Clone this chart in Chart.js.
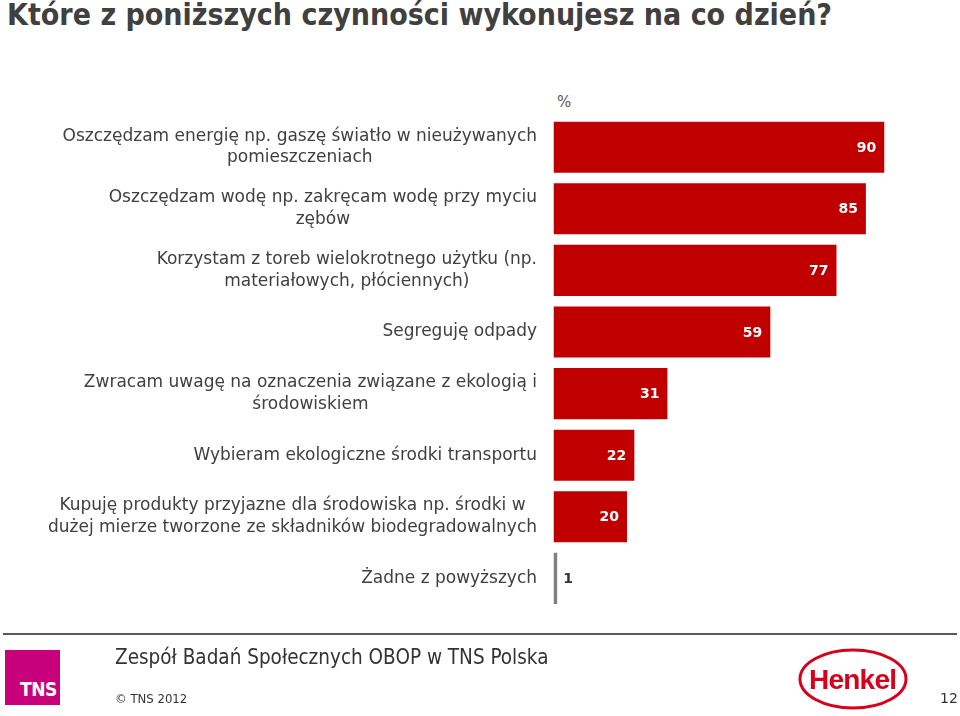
<!DOCTYPE html>
<html><head><meta charset="utf-8">
<script src="https://cdn.jsdelivr.net/npm/chart.js@4.4.0/dist/chart.umd.min.js"></script>
<style>
html,body{margin:0;padding:0;background:#fff;}
body{width:960px;height:716px;position:relative;overflow:hidden;font-family:"DejaVu Sans",sans-serif;}
#c{position:absolute;left:0;top:0;}
.t{position:absolute;white-space:nowrap;}
</style></head><body>
<div class="t" style="left:7px;top:-3px;font-family:'DejaVu Sans Condensed','DejaVu Sans';font-weight:bold;font-size:30px;color:#404040;">Które z poniższych czynności wykonujesz na co dzień?</div>
<div class="t" style="left:557px;top:93px;font-size:15px;color:#595959;">%</div>
<canvas id="c" width="960" height="716"></canvas>
<div style="position:absolute;left:3px;top:633px;width:954px;height:2px;background:#595959;"></div>
<div style="position:absolute;left:5px;top:650px;width:55px;height:55px;background:#C8007A;"></div>
<div class="t" style="left:20px;top:678px;font-family:'DejaVu Sans Condensed';font-weight:bold;font-size:19px;color:#fff;letter-spacing:-0.5px;">TNS</div>
<div class="t" style="left:115px;top:645px;font-family:'DejaVu Sans Condensed','DejaVu Sans';font-size:20.5px;color:#333;">Zespół Badań Społecznych OBOP w TNS Polska</div>
<div class="t" style="left:115px;top:691px;font-family:'DejaVu Sans Condensed','DejaVu Sans';font-size:13px;color:#333;">© TNS 2012</div>
<div class="t" style="left:940px;top:690px;font-size:14px;color:#333;">12</div>
<svg style="position:absolute;left:796px;top:646px;" width="116" height="66">
<ellipse cx="57" cy="33" rx="53" ry="29" fill="none" stroke="#D8001C" stroke-width="3"/>
<text x="57" y="43" text-anchor="middle" font-family="Liberation Sans" font-weight="bold" font-size="28" fill="#D8001C" textLength="88">Henkel</text>
</svg>
<script>
const categories = [
  ["Oszczędzam energię np. gaszę światło w nieużywanych", "pomieszczeniach"],
  ["Oszczędzam wodę np. zakręcam wodę przy myciu", "zębów"],
  ["Korzystam z toreb wielokrotnego użytku (np.", "materiałowych, płóciennych)"],
  ["Segreguję odpady"],
  ["Zwracam uwagę na oznaczenia związane z ekologią i", "środowiskiem"],
  ["Wybieram ekologiczne środki transportu"],
  ["Kupuję produkty przyjazne dla środowiska np. środki w", "dużej mierze tworzone ze składników biodegradowalnych"],
  ["Żadne z powyższych"]
];
const values = [90, 85, 77, 59, 31, 22, 20, 1];
const barColors = ["#C00000","#C00000","#C00000","#C00000","#C00000","#C00000","#C00000","#808080"];

const labelPlugin = {
  id: 'customLabels',
  afterDatasetsDraw(chart) {
    const ctx = chart.ctx;
    const yScale = chart.scales.y;
    ctx.save();
    ctx.font = '17px "DejaVu Sans"';
    ctx.fillStyle = '#404040';
    ctx.textAlign = 'center';
    ctx.textBaseline = 'middle';
    const rightEdge = 537;
    const lh = 21.5;
    categories.forEach((lines, i) => {
      const yc = yScale.getPixelForValue(i);
      let maxW = 0;
      lines.forEach(l => { maxW = Math.max(maxW, ctx.measureText(l).width); });
      const cx = rightEdge - maxW / 2;
      const y0 = yc - (lines.length - 1) * lh / 2;
      lines.forEach((l, j) => ctx.fillText(l, cx, y0 + j * lh));
    });
    const meta = chart.getDatasetMeta(0);
    ctx.font = 'bold 14px "DejaVu Sans"';
    meta.data.forEach((bar, i) => {
      const v = values[i];
      if (v < 5) {
        ctx.fillStyle = '#333';
        ctx.textAlign = 'left';
        ctx.fillText(String(v), bar.x + 6, bar.y + 1);
      } else {
        ctx.fillStyle = '#fff';
        ctx.textAlign = 'right';
        ctx.fillText(String(v), bar.x - 8, bar.y + 1);
      }
    });
    ctx.restore();
  }
};

new Chart(document.getElementById('c'), {
  type: 'bar',
  data: {
    labels: categories,
    datasets: [{ data: values, backgroundColor: barColors, borderWidth: 0,
      categoryPercentage: 1, barPercentage: 0.83 }]
  },
  options: {
    indexAxis: 'y',
    responsive: false,
    animation: false,
    layout: { padding: { left: 553.5, right: 39, top: 116.4, bottom: 106.8 } },
    plugins: { legend: { display: false }, tooltip: { enabled: false } },
    scales: {
      x: { display: false, min: 0, max: 100 },
      y: { display: false }
    }
  },
  plugins: [labelPlugin]
});
</script>
</body></html>
